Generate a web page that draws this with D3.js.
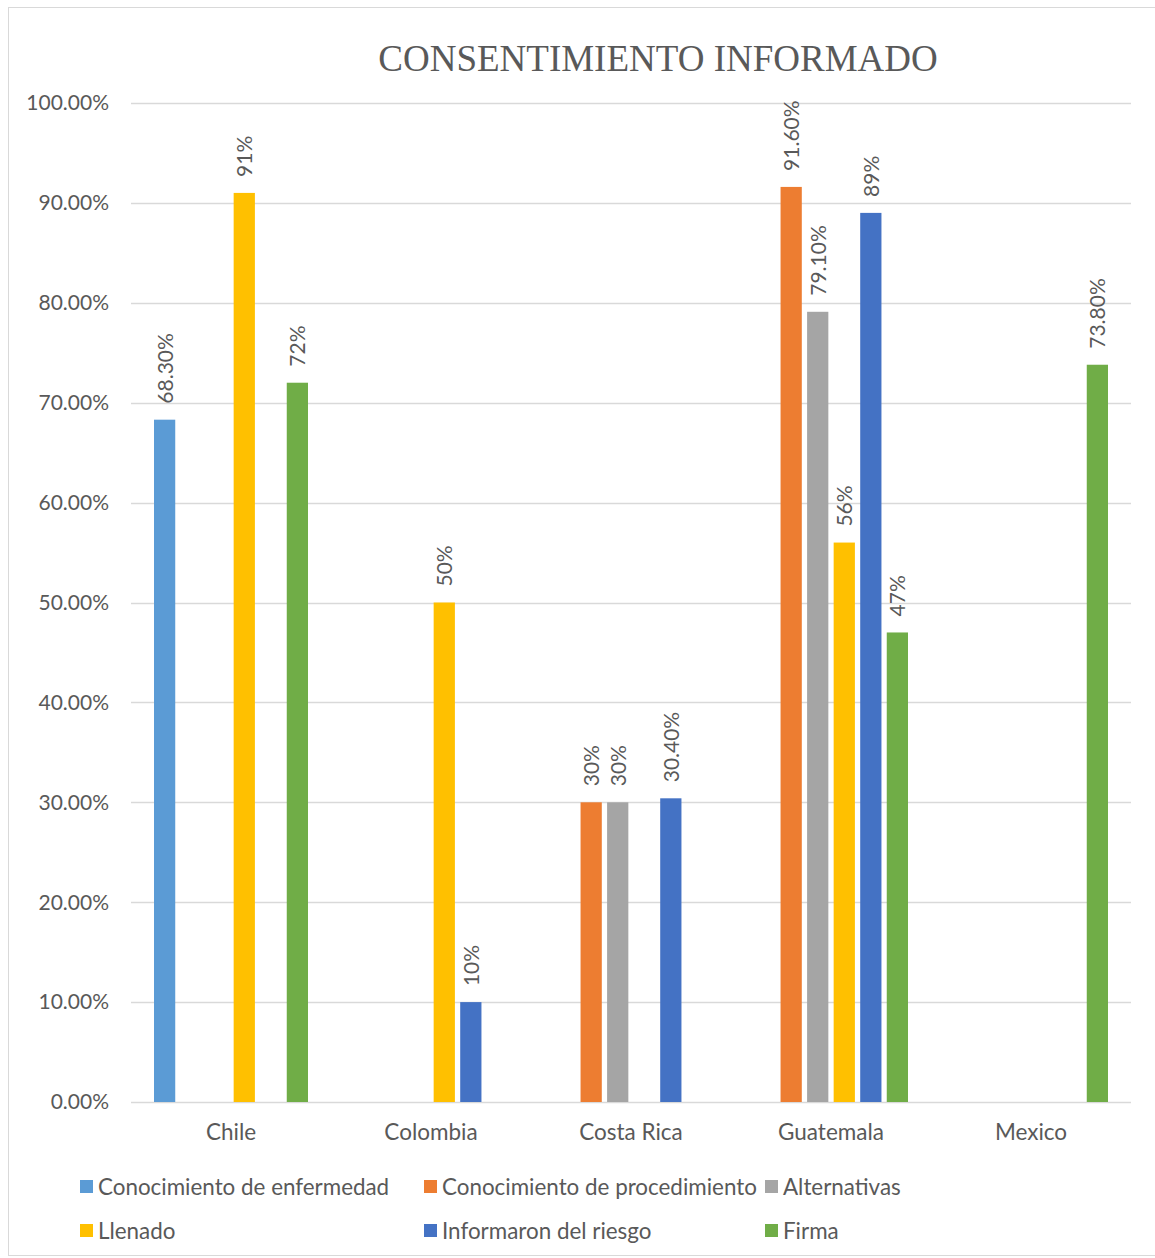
<!DOCTYPE html>
<meta charset="utf-8">
<style>
  body { margin: 0; background: #fff; }
  text { font-family: Lato, "Open Sans", sans-serif; fill: #595959; }
</style>
<body>
<script src="https://d3js.org/d3.v7.min.js"></script>
<script>
// data
var countries = ["Chile", "Colombia", "Costa Rica", "Guatemala", "Mexico"];
var seriesNames = ["Conocimiento de enfermedad", "Conocimiento de procedimiento", "Alternativas",
                   "Llenado", "Informaron del riesgo", "Firma"];
var seriesColors = ["#5B9BD5", "#ED7D31", "#A5A5A5", "#FFC000", "#4472C4", "#70AD47"];
// values per series, one entry per country (null = no bar)
var enfermedad    = [68.3, null, null, null, null];
var procedimiento = [null, null, 30, 91.6, null];
var alternativas  = [null, null, 30, 79.1, null];
var llenado       = [91, 50, null, 56, null];
var riesgo        = [null, 10, 30.4, 89, null];
var firma         = [72, null, null, 47, 73.8];
// data labels as printed on the chart
var lblEnfermedad    = ["68.30%", "", "", "", ""];
var lblProcedimiento = ["", "", "30%", "91.60%", ""];
var lblAlternativas  = ["", "", "30%", "79.10%", ""];
var lblLlenado       = ["91%", "50%", "", "56%", ""];
var lblRiesgo        = ["", "10%", "30.40%", "89%", ""];
var lblFirma         = ["72%", "", "", "47%", "73.80%"];
var yTicks = [0, 10, 20, 30, 40, 50, 60, 70, 80, 90, 100];

var allValues = [enfermedad, procedimiento, alternativas, llenado, riesgo, firma];
var allLabels = [lblEnfermedad, lblProcedimiento, lblAlternativas, lblLlenado, lblRiesgo, lblFirma];

var W = 1155, H = 1258;
var margin = {top: 103, right: 24, bottom: 156, left: 131};
var chartWidth = W - margin.left - margin.right,
    chartHeight = H - margin.top - margin.bottom;

var svg = d3.select("body").append("svg")
    .attr("width", W)
    .attr("height", H);

// chart border
svg.append("rect")
  .attr("x", 8.5).attr("y", 7.5)
  .attr("width", W - 8).attr("height", H - 10)
  .attr("fill", "none").attr("stroke", "#D9D9D9");

svg.append("text")
  .attr("x", 658).attr("y", 71)
  .attr("text-anchor", "middle")
  .style("font-family", "'Liberation Serif', 'DejaVu Serif', serif")
  .style("font-size", "37px")
  .text("CONSENTIMIENTO INFORMADO");

var g = svg.append("g")
  .attr("transform", "translate(" + margin.left + "," + margin.top + ")");

var x0 = d3.scaleBand().domain(countries).range([0, chartWidth]);
var x1 = d3.scaleBand().domain(d3.range(seriesNames.length))
  .range([x0.bandwidth() / 2 - 77, x0.bandwidth() / 2 + 77])
  .paddingInner(0.2).paddingOuter(0);
var y = d3.scaleLinear().domain([0, 100]).range([chartHeight, 0]);

// gridlines
g.selectAll(".grid").data(yTicks).enter().append("line")
  .attr("x1", 0).attr("x2", chartWidth)
  .attr("y1", function(d) { return Math.round(y(d)) + 0.5; })
  .attr("y2", function(d) { return Math.round(y(d)) + 0.5; })
  .attr("stroke", "#D9D9D9").attr("stroke-width", 1.5);

// y labels
g.selectAll(".ylab").data(yTicks).enter().append("text")
  .attr("x", -22).attr("y", function(d) { return y(d); })
  .attr("dy", "0.35em")
  .attr("text-anchor", "end")
  .style("font-size", "21px")
  .text(function(d) { return d.toFixed(2) + "%"; });

// x labels
g.selectAll(".xlab").data(countries).enter().append("text")
  .attr("x", function(d) { return x0(d) + x0.bandwidth() / 2; })
  .attr("y", chartHeight + 38)
  .attr("text-anchor", "middle")
  .style("font-size", "22.5px")
  .text(function(d) { return d; });

// bars + labels
allValues.forEach(function(vals, s) {
  var sg = g.append("g");
  countries.forEach(function(c, i) {
    var v = vals[i];
    if (v == null) return;
    var bx = x0(c) + x1(s);
    sg.append("rect")
      .attr("x", bx).attr("y", y(v))
      .attr("width", x1.bandwidth())
      .attr("height", chartHeight - y(v))
      .attr("fill", seriesColors[s]);
    sg.append("text")
      .attr("transform", "translate(" + (bx + x1.bandwidth() / 2 + 8) + "," + (y(v) - 16) + ") rotate(-90)")
      .style("font-size", "21px")
      .text(allLabels[s][i]);
  });
});

// legend
var legendPos = [[80, 1187], [424, 1187], [765, 1187], [80, 1231], [424, 1231], [765, 1231]];
seriesNames.forEach(function(name, s) {
  var lg = svg.append("g").attr("transform", "translate(" + legendPos[s][0] + "," + legendPos[s][1] + ")");
  lg.append("rect").attr("x", 0).attr("y", -7).attr("width", 13).attr("height", 13)
    .attr("fill", seriesColors[s]);
  lg.append("text").attr("x", 18).attr("y", 0).attr("dy", "0.35em")
    .style("font-size", "22.4px")
    .text(name);
});
</script>
</body>
